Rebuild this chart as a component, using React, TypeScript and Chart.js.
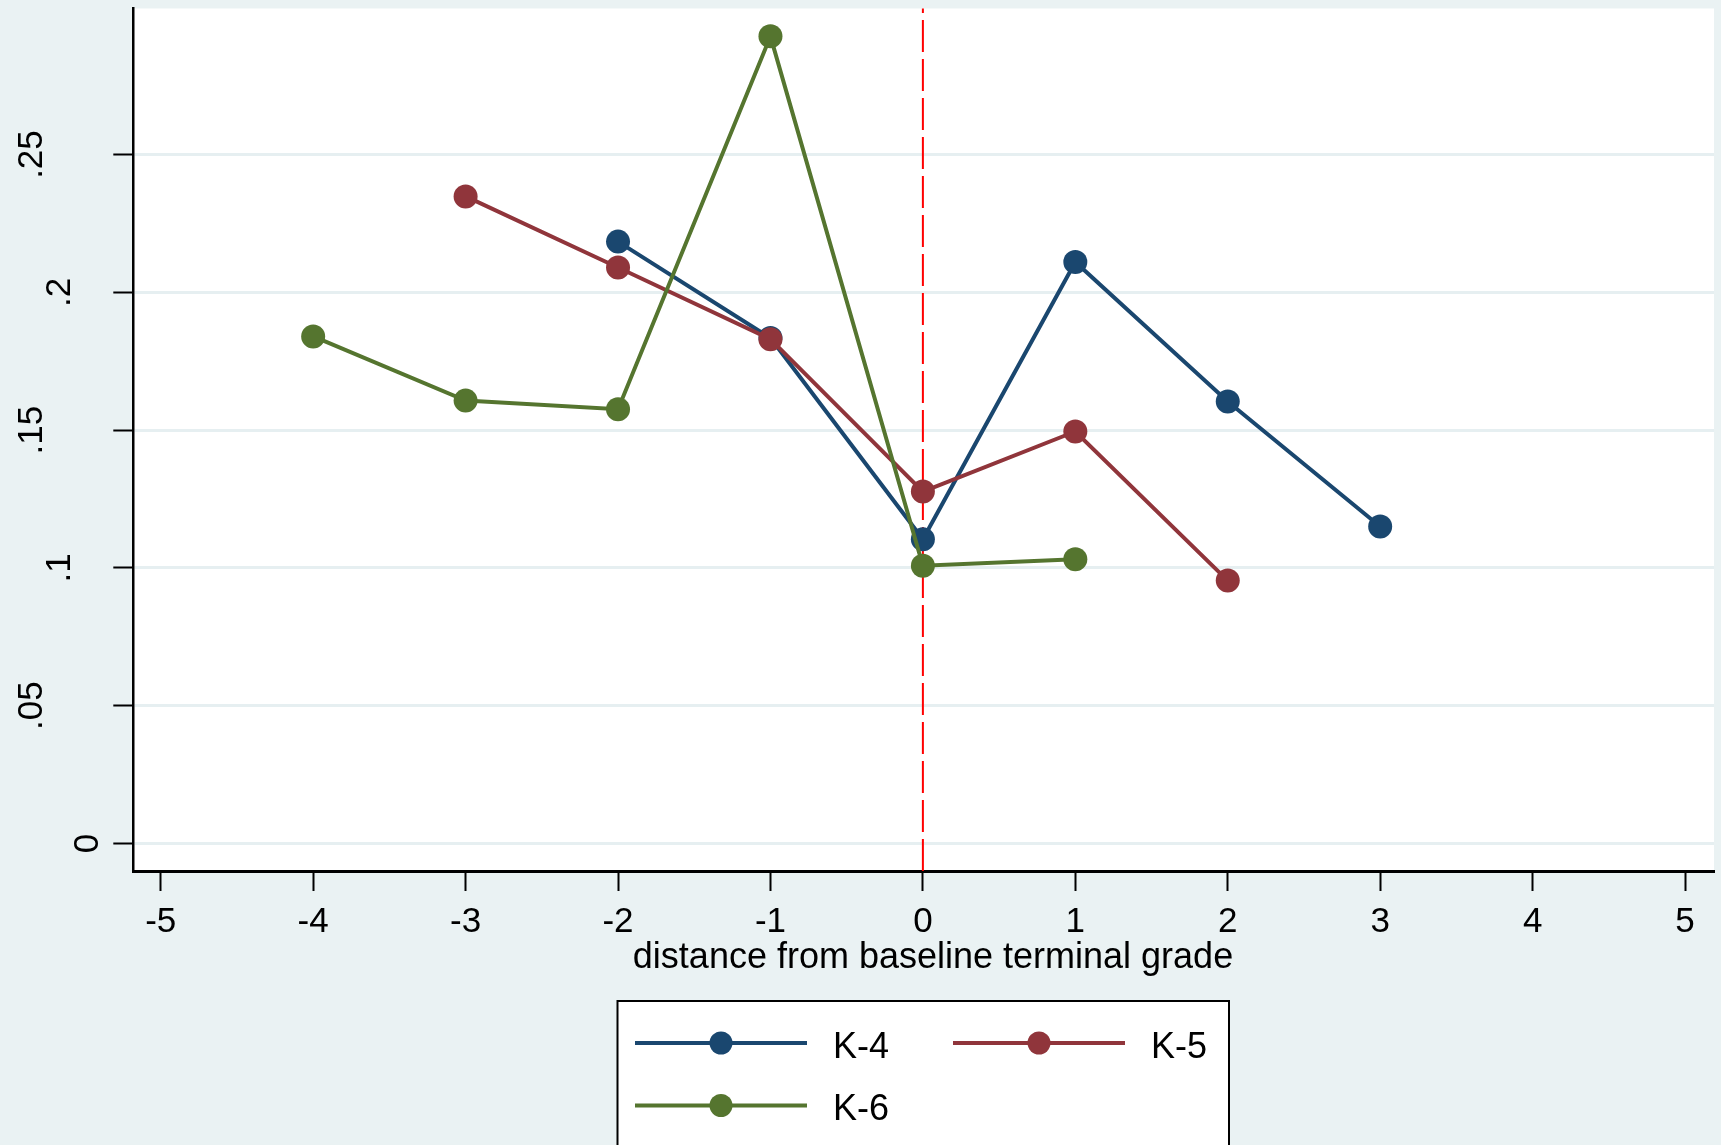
import React, { useEffect, useRef } from 'react';
import { Chart, registerables } from 'chart.js';

Chart.register(...registerables);

// ---- data ----
const seriesNames = ['K-4', 'K-5', 'K-6'];
const seriesColors = ['#1a476f', '#90353b', '#55752f'];

const xK4 = [-2, -1, 0, 1, 2, 3];
const yK4 = [0.2184, 0.1834, 0.1104, 0.211, 0.1604, 0.115];

const xK5 = [-3, -2, -1, 0, 1, 2];
const yK5 = [0.2348, 0.209, 0.183, 0.1277, 0.1495, 0.0954];

const xK6 = [-4, -3, -2, -1, 0, 1];
const yK6 = [0.184, 0.1607, 0.1576, 0.2929, 0.1008, 0.1031];

const xTickValues = [-5, -4, -3, -2, -1, 0, 1, 2, 3, 4, 5];
const yTickValues = [0, 0.05, 0.1, 0.15, 0.2, 0.25];
const yTickLabels = ['0', '.05', '.1', '.15', '.2', '.25'];
const refLineX = 0;
const xTitle = 'distance from baseline terminal grade';

const FONT = '"Liberation Sans", Arial, Helvetica, sans-serif';
const BG = '#eaf2f3';

function toPoints(xs: number[], ys: number[]) {
  return xs.map((x, i) => ({ x, y: ys[i] }));
}

export default function App() {
  const ref = useRef<HTMLCanvasElement | null>(null);

  useEffect(() => {
    const canvas = ref.current;
    if (!canvas) return;

    const bgPlugin = {
      id: 'bgPlugin',
      beforeDraw(chart: any) {
        const { ctx, chartArea } = chart;
        ctx.save();
        ctx.fillStyle = BG;
        ctx.fillRect(0, 0, chart.width, chart.height);
        ctx.fillStyle = '#ffffff';
        ctx.fillRect(chartArea.left, chartArea.top, chartArea.right - chartArea.left, chartArea.bottom - chartArea.top);
        ctx.restore();
      },
      beforeDatasetsDraw(chart: any) {
        const { ctx, chartArea } = chart;
        const x = chart.scales.x.getPixelForValue(refLineX);
        ctx.save();
        ctx.beginPath();
        ctx.setLineDash([32, 7]);
        ctx.strokeStyle = '#ff0000';
        ctx.lineWidth = 2;
        ctx.moveTo(x, chartArea.bottom);
        ctx.lineTo(x, chartArea.top);
        ctx.stroke();
        ctx.restore();
      },
      afterDraw(chart: any) {
        const { ctx } = chart;
        const ys = chart.scales.y;
        ctx.save();
        // y tick labels, rotated
        ctx.font = `35px ${FONT}`;
        ctx.fillStyle = '#000';
        ctx.textAlign = 'center';
        ctx.textBaseline = 'alphabetic';
        yTickValues.forEach((v, i) => {
          const label = yTickLabels[i];
          const py = ys.getPixelForValue(v);
          const bx = ys.right - (35 + (label.length - 1) * 28.3);
          ctx.save();
          ctx.translate(bx, py);
          ctx.rotate(-Math.PI / 2);
          ctx.fillText(label, 0, 0);
          ctx.restore();
        });
        // x title
        ctx.font = `36px ${FONT}`;
        ctx.textAlign = 'center';
        ctx.fillText(xTitle, 933, 968);

        // legend
        const lx0 = 617.5, lx1 = 1229, ly0 = 1001;
        ctx.fillStyle = '#ffffff';
        ctx.fillRect(lx0, ly0, lx1 - lx0, chart.height - ly0 + 10);
        ctx.strokeStyle = '#000';
        ctx.lineWidth = 2;
        ctx.strokeRect(lx0, ly0, lx1 - lx0, chart.height - ly0 + 10);
        const items = [
          { x: 635, y: 1043 },
          { x: 953, y: 1043 },
          { x: 635, y: 1105.5 },
        ];
        items.forEach((it, i) => {
          const c = seriesColors[i];
          ctx.strokeStyle = c;
          ctx.lineWidth = 4;
          ctx.beginPath();
          ctx.moveTo(it.x, it.y);
          ctx.lineTo(it.x + 172, it.y);
          ctx.stroke();
          ctx.fillStyle = c;
          ctx.beginPath();
          ctx.arc(it.x + 86, it.y, 11.5, 0, Math.PI * 2);
          ctx.fill();
          ctx.fillStyle = '#000';
          ctx.font = `36px ${FONT}`;
          ctx.textAlign = 'left';
          ctx.fillText(seriesNames[i], it.x + 198, it.y + 14.5);
        });
        ctx.restore();
      },
    };

    const allX = [xK4, xK5, xK6];
    const allY = [yK4, yK5, yK6];

    const chart = new Chart(canvas, {
      type: 'line',
      data: {
        datasets: seriesNames.map((name, i) => ({
          label: name,
          data: toPoints(allX[i], allY[i]),
          borderColor: seriesColors[i],
          backgroundColor: seriesColors[i],
          pointBackgroundColor: seriesColors[i],
          pointBorderWidth: 0,
          pointRadius: 12,
          borderWidth: 4,
          tension: 0,
          fill: false,
          order: seriesNames.length - i,
        })),
      },
      options: {
        responsive: false,
        animation: false,
        events: [],
        layout: { padding: { left: 0, top: 8.5, right: 7, bottom: 0 }, autoPadding: false },
        plugins: {
          legend: { display: false },
          tooltip: { enabled: false },
          title: { display: false },
        },
        scales: {
          x: {
            type: 'linear',
            position: 'bottom',
            min: -5.18,
            max: 5.19,
            afterBuildTicks(scale: any) {
              scale.ticks = xTickValues.map((v) => ({ value: v }));
            },
            afterFit(scale: any) {
              scale.height = 274;
            },
            ticks: {
              autoSkip: false,
              maxRotation: 0,
              minRotation: 0,
              padding: 10,
              color: '#000',
              font: { family: FONT, size: 35 },
              callback: (v: any) => String(v),
            },
            grid: {
              drawOnChartArea: false,
              drawTicks: true,
              tickLength: 20,
              tickColor: '#000',
              tickWidth: 2,
            },
            border: { display: true, color: '#000', width: 3 },
          },
          y: {
            type: 'linear',
            position: 'left',
            min: -0.01,
            max: 0.303,
            afterBuildTicks(scale: any) {
              scale.ticks = yTickValues.map((v) => ({ value: v }));
            },
            afterFit(scale: any) {
              scale.width = 133.3;
            },
            ticks: { display: false },
            grid: {
              drawOnChartArea: true,
              color: '#e6eff1',
              lineWidth: 3,
              drawTicks: true,
              tickLength: 20,
              tickColor: '#000',
              tickWidth: 2,
            },
            border: { display: true, color: '#000', width: 2.5 },
          },
        },
      },
      plugins: [bgPlugin],
    } as any);

    return () => {
      chart.destroy();
    };
  }, []);

  return (
    <div style={{ position: 'fixed', left: 0, top: 0, width: 1721, height: 1145, background: BG }}>
      <canvas ref={ref} width={1721} height={1145} style={{ display: 'block', width: 1721, height: 1145 }} />
    </div>
  );
}
